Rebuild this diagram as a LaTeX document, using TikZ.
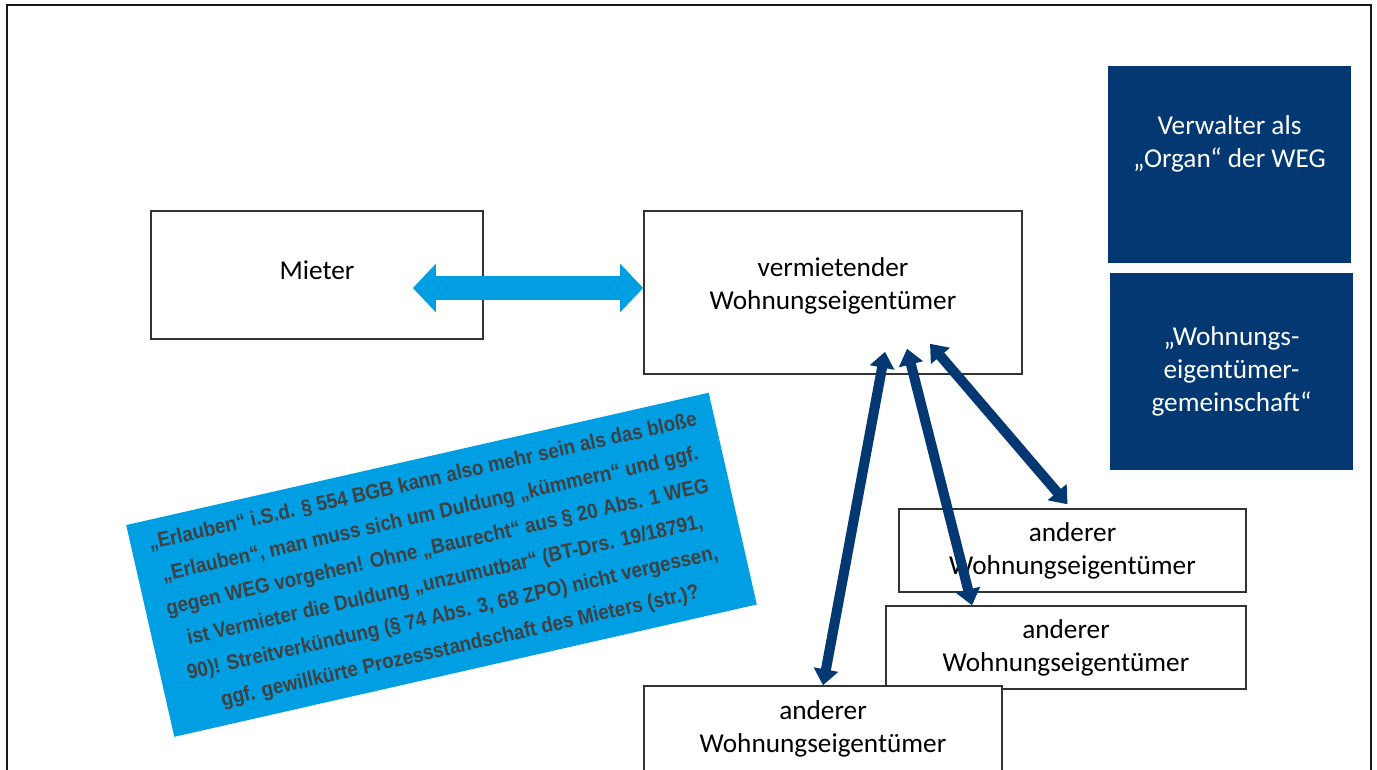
\documentclass[tikz,border=0pt]{standalone}
\usepackage{fontspec}
\setmainfont{Carlito}
\newfontfamily\arialfont[FakeStretch=0.9]{Liberation Sans}
\usetikzlibrary{arrows.meta,calc,positioning}
\definecolor{wegblue}{RGB}{4,56,115}
\definecolor{lightblue}{RGB}{0,159,227}
\definecolor{notegray}{RGB}{64,64,64}

\begin{document}
\begin{tikzpicture}[x=0.01cm,y=-0.01cm,
	box/.style={draw=black!80,line width=0.4pt,fill=white,align=center,inner sep=0pt,
		font=\fontsize{7.75pt}{9.4pt}\selectfont},
	darkbox/.style={fill=wegblue,text=white,align=center,inner sep=0pt,
		minimum width=24.3mm,minimum height=19.7mm,font=\fontsize{7.75pt}{9.4pt}\selectfont},
	note/.style={fill=lightblue,text=notegray,align=center,inner sep=0pt,rotate=12.8,
		minimum width=59.7mm,minimum height=21.7mm,
		font=\arialfont\bfseries\fontsize{5.95pt}{9.6pt}\selectfont},
	lease/.style={lightblue,line width=2.4mm,>={Triangle[length=2.3mm,width=4.7mm]},<->},
	owner/.style={wegblue,line width=1mm,>={Triangle[length=1.6mm,width=2.4mm]},<->}]
\useasboundingbox (0,0) rectangle (1377,769);
\fill[white] (0,0) rectangle (1377,769);
\clip (0,0) rectangle (1377,769);
\draw[black!90,line width=0.6pt] (7,5) rectangle (1371,820);

% Parteien
\node[box,minimum width=33.2mm,minimum height=12.8mm,text depth=3pt] (mieter) at (317,275) {Mieter};
\node[box,minimum width=37.8mm,minimum height=16.3mm,text depth=5pt] (verm) at (833,292.5) {vermietender\\Wohnungseigent\"umer};
\node[darkbox] (verw) at (1229.5,164.5) {};
\node[text=white,align=center,font=\fontsize{7.75pt}{9.4pt}\selectfont] (verwtext) at ($(verw.north)+(0,78.5)$) {Verwalter als\\„Organ“ der WEG};
\node[darkbox] (weg) at (1231.5,371.5) {„Wohnungs-\\eigent\"umer-\\gemeinschaft“};
\foreach \n/\x/\y/\w/\h in {1/1072.5/550.5/34.7/8.3, 2/1066/647.5/36/8.3, 3/823/728.5/35.8/8.5}{
	\node[box,minimum width=\w mm,minimum height=\h mm] (and\n) at (\x,\y) {anderer\\Wohnungseigent\"umer};
}

% Hinweis
\node[note] (erlauben) at (441.5,564.75) {„Erlauben“ i.S.d. § 554 BGB kann also mehr sein als das bloße\\
	„Erlauben“, man muss sich um Duldung „kümmern“ und ggf.\\
	gegen WEG vorgehen! Ohne „Baurecht“ aus § 20 Abs. 1 WEG\\
	ist Vermieter die Duldung „unzumutbar“ (BT-Drs. 19/18791,\\
	90)! Streitverkündung (§ 74 Abs. 3, 68 ZPO) nicht vergessen,\\
	ggf. gewillkürte Prozessstandschaft des Mieters (str.)?};

% Pfeile
\coordinate (mieterEnd) at ($(mieter.east)+(-71,13)$);
\draw[lease] (mieterEnd) -- (mieterEnd -| verm.west);
\coordinate (vA) at ($(verm.south)+(52,-23)$);
\coordinate (vB) at ($(verm.south)+(74,-26)$);
\coordinate (vC) at ($(verm.south)+(97,-31)$);
\coordinate (bEnd) at ($(and2.north)+(-94,0)$);
\coordinate (cEnd) at ($(and1.north)+(-5,-4)$);
\draw[owner] (and3.north) -- (vA);
\draw[owner] (vB) -- (bEnd);
\draw[owner] (vC) -- (cEnd);
\end{tikzpicture}
\end{document}
